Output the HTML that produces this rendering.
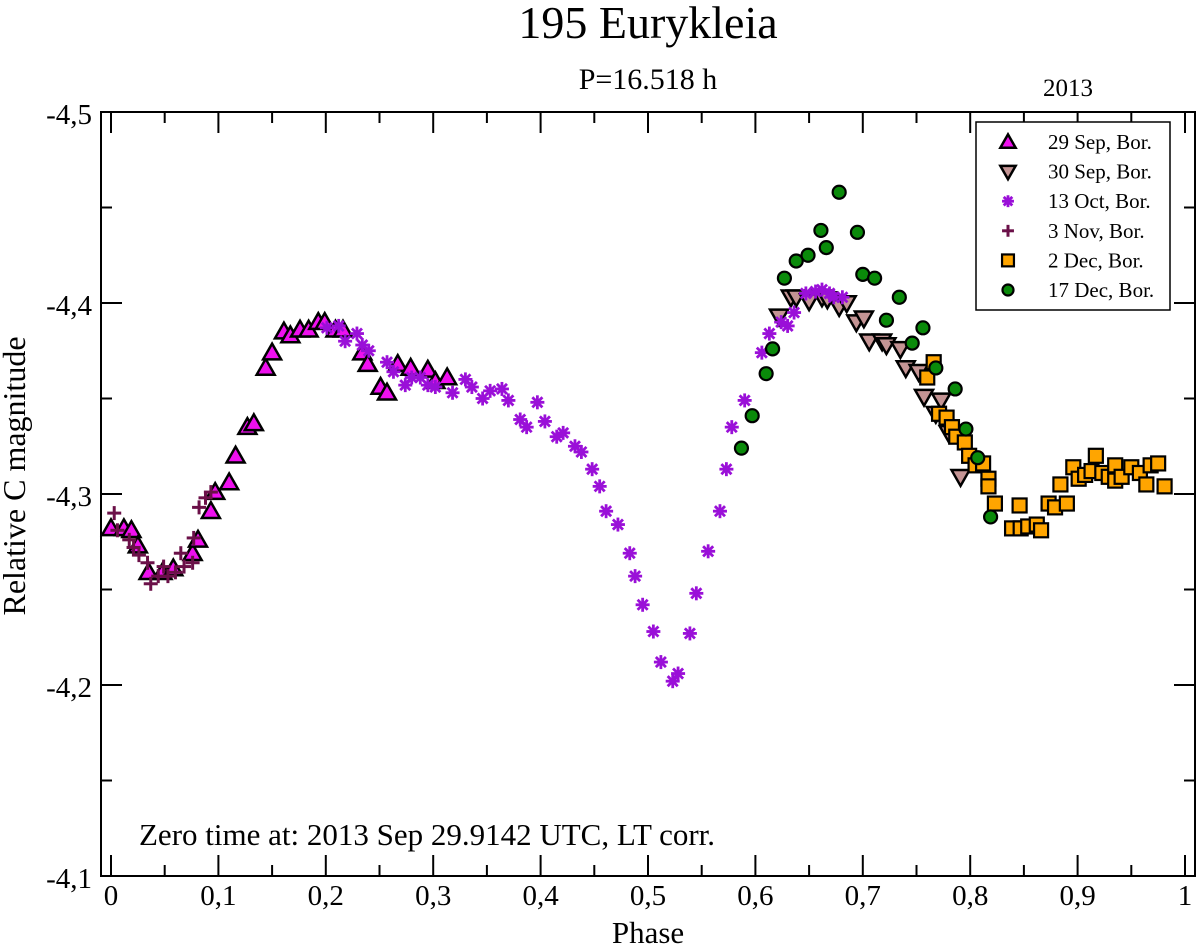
<!DOCTYPE html>
<html><head><meta charset="utf-8">
<style>
body{margin:0;background:#fff;}
svg{display:block;font-family:"Liberation Serif",serif;}
</style></head>
<body>
<svg id="chart" width="1200" height="951" xmlns="http://www.w3.org/2000/svg">
<text x="648" y="38" font-size="46" text-anchor="middle">195 Eurykleia</text>
<text x="648" y="89" font-size="30" text-anchor="middle">P=16.518 h</text>
<text x="1068" y="96" font-size="25" text-anchor="middle">2013</text>
<text transform="translate(25,476) rotate(-90)" font-size="32" text-anchor="middle">Relative C magnitude</text>
<text x="648" y="943" font-size="31" text-anchor="middle">Phase</text>
<text x="139" y="845" font-size="31">Zero time at: 2013 Sep 29.9142 UTC, LT corr.</text>
<g id="axes"></g>
<g id="marks"></g>
<g id="legend">
<rect x="976" y="122" width="194" height="188" fill="#fff" stroke="#000" stroke-width="1.5"/>
</g>
</svg>
<script>
const xTicks=[0,0.1,0.2,0.3,0.4,0.5,0.6,0.7,0.8,0.9,1];
const xTickLabels=["0","0,1","0,2","0,3","0,4","0,5","0,6","0,7","0,8","0,9","1"];
const yTicks=[-4.5,-4.4,-4.3,-4.2,-4.1];
const yTickLabels=["-4,5","-4,4","-4,3","-4,2","-4,1"];
const sep29Phase=[0.000,0.012,0.019,0.025,0.035,0.048,0.058,0.076,0.081,0.093,0.097,0.110,0.116,0.127,0.133,0.144,0.150,0.161,0.167,0.176,0.184,0.193,0.199,0.209,0.216,0.234,0.239,0.251,0.257,0.267,0.279,0.295,0.302,0.313];
const sep29Mag=[-4.282,-4.282,-4.281,-4.273,-4.259,-4.259,-4.261,-4.269,-4.276,-4.291,-4.301,-4.306,-4.320,-4.335,-4.337,-4.366,-4.374,-4.385,-4.383,-4.386,-4.386,-4.390,-4.390,-4.386,-4.386,-4.374,-4.368,-4.356,-4.353,-4.368,-4.366,-4.365,-4.359,-4.361];
const sep30Phase=[0.622,0.633,0.638,0.650,0.662,0.667,0.678,0.685,0.694,0.701,0.706,0.718,0.722,0.735,0.740,0.752,0.757,0.773,0.768,0.780,0.791];
const sep30Mag=[-4.393,-4.403,-4.403,-4.401,-4.403,-4.402,-4.398,-4.400,-4.390,-4.392,-4.380,-4.380,-4.378,-4.376,-4.366,-4.364,-4.351,-4.349,-4.342,-4.332,-4.309];
const oct13Phase=[0.201,0.212,0.218,0.229,0.234,0.240,0.257,0.263,0.274,0.280,0.288,0.295,0.302,0.318,0.330,0.336,0.346,0.353,0.364,0.370,0.381,0.387,0.397,0.404,0.415,0.421,0.432,0.438,0.448,0.455,0.461,0.472,0.483,0.488,0.495,0.505,0.512,0.523,0.528,0.539,0.545,0.556,0.567,0.573,0.578,0.590,0.606,0.613,0.624,0.630,0.636,0.647,0.656,0.662,0.669,0.673,0.681];
const oct13Mag=[-4.387,-4.388,-4.380,-4.384,-4.378,-4.375,-4.369,-4.364,-4.357,-4.361,-4.361,-4.357,-4.356,-4.353,-4.360,-4.356,-4.350,-4.354,-4.355,-4.349,-4.339,-4.335,-4.348,-4.338,-4.330,-4.332,-4.325,-4.322,-4.313,-4.304,-4.291,-4.284,-4.269,-4.257,-4.242,-4.228,-4.212,-4.202,-4.206,-4.227,-4.248,-4.270,-4.291,-4.313,-4.335,-4.349,-4.374,-4.384,-4.390,-4.388,-4.395,-4.405,-4.406,-4.407,-4.405,-4.403,-4.403];
const nov3Phase=[0.003,0.006,0.017,0.021,0.026,0.034,0.037,0.044,0.049,0.053,0.060,0.065,0.068,0.076,0.077,0.082,0.088,0.093];
const nov3Mag=[-4.290,-4.281,-4.276,-4.272,-4.268,-4.264,-4.253,-4.257,-4.262,-4.257,-4.259,-4.269,-4.262,-4.264,-4.277,-4.293,-4.298,-4.301];
const dec2Phase=[0.766,0.760,0.771,0.778,0.783,0.787,0.795,0.799,0.805,0.812,0.817,0.817,0.823,0.839,0.847,0.854,0.862,0.866,0.846,0.873,0.879,0.890,0.884,0.896,0.901,0.907,0.913,0.917,0.923,0.929,0.935,0.935,0.941,0.950,0.958,0.964,0.968,0.975,0.981];
const dec2Mag=[-4.369,-4.361,-4.342,-4.340,-4.335,-4.330,-4.327,-4.320,-4.315,-4.316,-4.308,-4.304,-4.295,-4.282,-4.282,-4.283,-4.284,-4.281,-4.294,-4.295,-4.293,-4.295,-4.305,-4.314,-4.308,-4.310,-4.312,-4.320,-4.311,-4.309,-4.315,-4.307,-4.309,-4.314,-4.311,-4.305,-4.315,-4.316,-4.304];
const dec17Phase=[0.678,0.661,0.695,0.666,0.649,0.638,0.627,0.700,0.711,0.734,0.722,0.756,0.746,0.768,0.616,0.610,0.597,0.587,0.786,0.796,0.807,0.819];
const dec17Mag=[-4.458,-4.438,-4.437,-4.429,-4.425,-4.422,-4.413,-4.415,-4.413,-4.403,-4.391,-4.387,-4.379,-4.366,-4.376,-4.363,-4.341,-4.324,-4.355,-4.334,-4.319,-4.288];
const legendLabels=["29 Sep, Bor.","30 Sep, Bor.","13 Oct, Bor.","3 Nov, Bor.","2 Dec, Bor.","17 Dec, Bor."];

const NS="http://www.w3.org/2000/svg";
const L=101,R=1195,T=112,B=876;
function sx(p){return 111+p*(1185-111);}
function sy(m){return T+(m+4.5)/0.4*(B-T);}
function mk(tag,attrs,parent){const e=document.createElementNS(NS,tag);for(const k in attrs)e.setAttribute(k,attrs[k]);parent.appendChild(e);return e;}

const axes=document.getElementById('axes');
const frame=mk('rect',{x:L,y:T,width:R-L,height:B-T,fill:'none',stroke:'#000','stroke-width':2},axes);


for(let i=0;i<=20;i++){
  const p=i*0.05, x=sx(p), len=(i%2==0)?21:11;
  const t1=mk('line',{x1:x,x2:x,y1:B,y2:B-len,stroke:'#000','stroke-width':2},axes);
  
  
  const t2=mk('line',{x1:x,x2:x,y1:T,y2:T+len,stroke:'#000','stroke-width':2},axes);
  
  
}
xTicks.forEach((p,i)=>{
  const t=mk('text',{x:sx(p),y:905,'font-size':29,'text-anchor':'middle'},axes);
  t.textContent=xTickLabels[i];
  
  
});
for(let i=0;i<=8;i++){
  const m=-4.5+i*0.05, y=sy(m), len=(i%2==0)?21:11;
  const t1=mk('line',{x1:L,x2:L+len,y1:y,y2:y,stroke:'#000','stroke-width':2},axes);
  
  
  const t2=mk('line',{x1:R,x2:R-len,y1:y,y2:y,stroke:'#000','stroke-width':2},axes);
  
  
}
yTicks.forEach((m,i)=>{
  const t=mk('text',{x:92,y:sy(m)+12,'font-size':29,'text-anchor':'end'},axes);
  t.textContent=yTickLabels[i];
  
  
});

function drawMarker(kind,x,y,parent,s){
  s=s||1;
  const g=mk('g',{},parent);
  if(kind==='up'){const h=9*s;mk('polygon',{points:`${x},${y-h} ${x-h},${y+h*0.75} ${x+h},${y+h*0.75}`,fill:'#ee10ee',stroke:'#000','stroke-width':2.5},g);}
  else if(kind==='down'){const h=9*s;mk('polygon',{points:`${x},${y+h} ${x-h},${y-h*0.75} ${x+h},${y-h*0.75}`,fill:'#c49494',stroke:'#000','stroke-width':2.5},g);}
  else if(kind==='star'){const h=7*s;const d=h*0.72;
    [[0,-h,0,h],[-h,0,h,0],[-d,-d,d,d],[-d,d,d,-d]].forEach(a=>mk('line',{x1:x+a[0],y1:y+a[1],x2:x+a[2],y2:y+a[3],stroke:'#9a10d8','stroke-width':2.8},g));}
  else if(kind==='plus'){const h=7*s;
    mk('line',{x1:x-h,x2:x+h,y1:y,y2:y,stroke:'#6b1048','stroke-width':3},g);
    mk('line',{x1:x,x2:x,y1:y-h,y2:y+h,stroke:'#6b1048','stroke-width':3},g);}
  else if(kind==='square'){const h=7*s;mk('rect',{x:x-h,y:y-h,width:2*h,height:2*h,fill:'#ffa500',stroke:'#000','stroke-width':2.2},g);}
  else if(kind==='circle'){mk('circle',{cx:x,cy:y,r:6.5*s,fill:'#0a8a0a',stroke:'#000','stroke-width':2.2},g);}
  return g;
}
const marks=document.getElementById('marks');
const series=[['up',sep29Phase,sep29Mag,'sep29'],['down',sep30Phase,sep30Mag,'sep30'],['star',oct13Phase,oct13Mag,'oct13'],['plus',nov3Phase,nov3Mag,'nov3'],['square',dec2Phase,dec2Mag,'dec2'],['circle',dec17Phase,dec17Mag,'dec17']];
series.forEach(s=>{
  s[1].forEach((p,i)=>{
    const g=drawMarker(s[0],sx(p),sy(s[2][i]),marks);
    
    
  });
});
const leg=document.getElementById('legend');
series.forEach((s,i)=>{
  const y=142+i*29.6;
  const g=drawMarker(s[0],1008,y,leg,0.85);
  
  
  const t=mk('text',{x:1048,y:y+7,'font-size':21},leg);
  t.textContent=legendLabels[i];
  
  
});
</script>
</body></html>
